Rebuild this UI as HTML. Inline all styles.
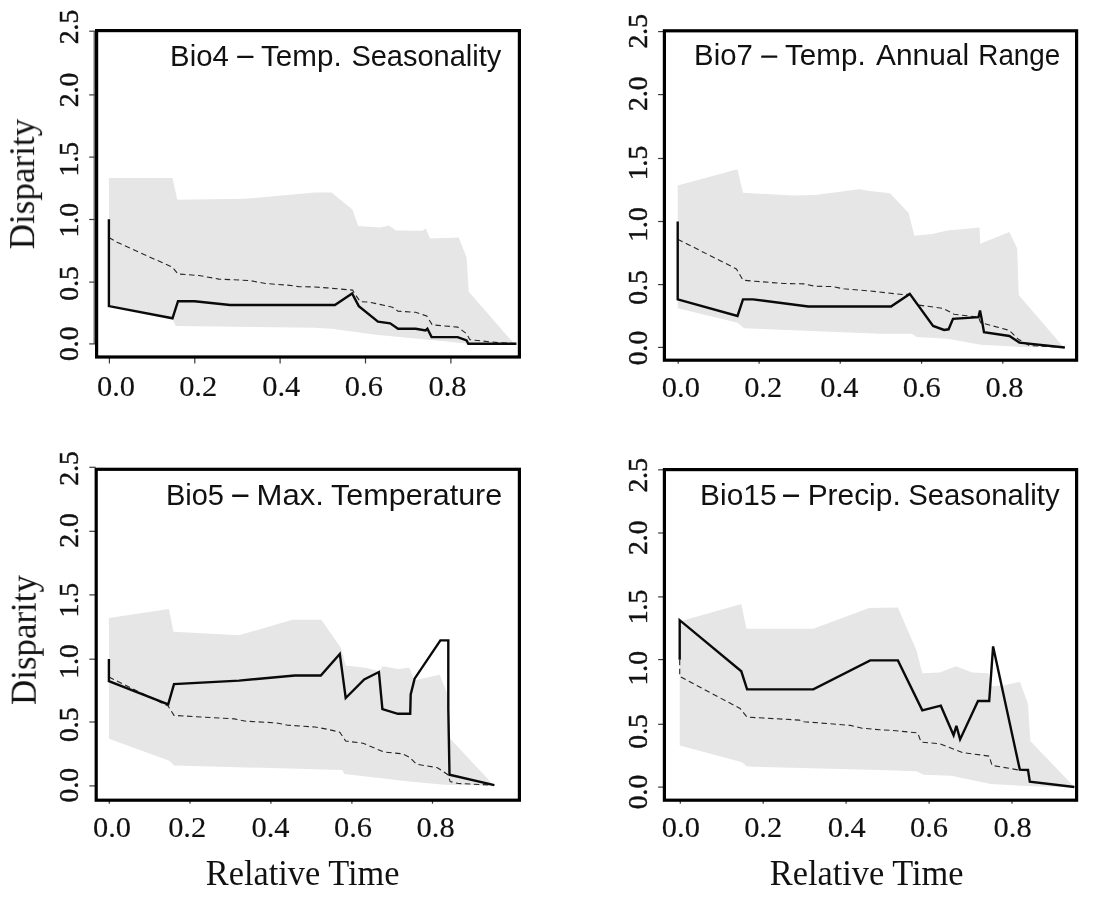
<!DOCTYPE html>
<html><head><meta charset="utf-8"><title>Disparity through time</title>
<style>html,body{margin:0;padding:0;background:#fff;}body{width:1100px;height:904px;overflow:hidden;font-family:"Liberation Serif",serif;}svg{display:block;}</style>
</head><body>
<svg width="1100" height="904" viewBox="0 0 1100 904">
<rect width="1100" height="904" fill="#fff"/>
<polygon points="108.9,178.1 172.5,178.1 177.3,199.8 245.5,198.7 315,192.5 331.6,192.5 352.6,209.8 358.1,226 380.3,227.5 389.1,225.5 395.7,230.4 422.3,230.8 425.6,228.6 430.1,238.6 458.8,237.5 466.6,257.4 468.8,291.7 513.1,342.6 513.1,343.9 468.8,343.7 429,339.7 378,334.9 331.6,328.7 315,327.8 175.8,326 172.5,318.8 108.9,306.5" fill="#e6e6e6"/>
<polyline points="108.9,237.5 117.1,242.3 172.5,267.3 178,274 199,275.5 219,279.1 250,280.6 265.4,283.5 287.6,285.1 298.6,286.6 315,287 327.1,287.9 352.6,290.1 354.1,292.8 360.3,301.7 369.2,302.1 392.4,307.2 398,311.2 415.7,312.3 426.7,316 432.3,324.9 457.7,327.1 466.6,333.7 469.9,339.7 497.6,342.6 516.4,343.7" fill="none" stroke="#262626" stroke-width="1.1" stroke-dasharray="5.5 3.5"/>
<polyline points="108.9,219.3 108.9,306.1 172.5,318.3 178,301.2 194.6,301.2 230,305 334.9,305 352.1,293.5 358.8,306.1 378,321.6 390.2,323.3 398,328.7 415.7,328.7 425.6,330.4 427.4,328.7 431.6,337.1 457.7,337.1 466.6,340.4 468.3,343.7 516.4,343.7" fill="none" stroke="#0a0a0a" stroke-width="2.4" stroke-linejoin="miter" stroke-miterlimit="3"/>
<line x1="89.2" y1="343.9" x2="96" y2="343.9" stroke="#3a3a3a" stroke-width="1.2"/>
<line x1="89.2" y1="282.1" x2="96" y2="282.1" stroke="#3a3a3a" stroke-width="1.2"/>
<line x1="89.2" y1="219.5" x2="96" y2="219.5" stroke="#3a3a3a" stroke-width="1.2"/>
<line x1="89.2" y1="157.1" x2="96" y2="157.1" stroke="#3a3a3a" stroke-width="1.2"/>
<line x1="89.2" y1="94.9" x2="96" y2="94.9" stroke="#3a3a3a" stroke-width="1.2"/>
<line x1="89.2" y1="31.2" x2="96" y2="31.2" stroke="#3a3a3a" stroke-width="1.2"/>
<line x1="109.4" y1="357.6" x2="109.4" y2="363.5" stroke="#3a3a3a" stroke-width="1.2"/>
<line x1="194.8" y1="357.6" x2="194.8" y2="363.5" stroke="#3a3a3a" stroke-width="1.2"/>
<line x1="280.1" y1="357.6" x2="280.1" y2="363.5" stroke="#3a3a3a" stroke-width="1.2"/>
<line x1="365.5" y1="357.6" x2="365.5" y2="363.5" stroke="#3a3a3a" stroke-width="1.2"/>
<line x1="450.9" y1="357.6" x2="450.9" y2="363.5" stroke="#3a3a3a" stroke-width="1.2"/>
<line x1="94.2" y1="31.2" x2="94.2" y2="343.9" stroke="#4a4a4a" stroke-width="1.2"/>
<rect x="96.6" y="30.6" width="422.8" height="326.4" fill="none" stroke="#000" stroke-width="3.2"/>
<polygon points="677.7,185.5 737.5,169.3 743,192.8 792.8,195.4 814.9,195 859.2,189.2 870,191 889.9,193.2 908.7,213.1 914.3,235.7 932,234.1 947.5,230.4 979.6,227.5 980.2,243.7 1009.4,231.9 1017.2,248.5 1018.7,295 1062.6,345.9 1062.6,347.4 1020.5,347 980.7,344.8 947.5,338.8 916.5,337.1 912,333.7 880,333.7 744.1,328.2 737.5,322.7 677.7,308.3" fill="#e6e6e6"/>
<polyline points="677.7,239.2 686.6,243.7 736.4,268.9 743,280.2 755.2,281.3 783.9,283.5 803.9,283.9 814.9,286.2 832.6,286.6 843.7,288.8 870,291 903.2,294.6 909.8,294.2 917.6,305 943,308.3 954.1,314.3 978.5,317.1 980.7,322.7 1009.4,330.4 1018.3,339.3 1029.4,345.5 1064.8,347.5" fill="none" stroke="#262626" stroke-width="1.1" stroke-dasharray="5.5 3.5"/>
<polyline points="677.7,221.5 677.7,299.4 737.5,316 743,299.4 753,299.4 808.3,306.5 891,306.5 909.8,293.9 933.1,326 944.1,330 948.6,329.3 953,318.9 978.5,317.1 980,310.5 981.3,317.1 984,332.2 1009.4,336 1019.4,342.6 1064.8,347.5" fill="none" stroke="#0a0a0a" stroke-width="2.4" stroke-linejoin="miter" stroke-miterlimit="3"/>
<line x1="658.1" y1="347.4" x2="663.8" y2="347.4" stroke="#3a3a3a" stroke-width="1.2"/>
<line x1="658.1" y1="284.6" x2="663.8" y2="284.6" stroke="#3a3a3a" stroke-width="1.2"/>
<line x1="658.1" y1="221.5" x2="663.8" y2="221.5" stroke="#3a3a3a" stroke-width="1.2"/>
<line x1="658.1" y1="158.5" x2="663.8" y2="158.5" stroke="#3a3a3a" stroke-width="1.2"/>
<line x1="658.1" y1="94.6" x2="663.8" y2="94.6" stroke="#3a3a3a" stroke-width="1.2"/>
<line x1="658.1" y1="31.6" x2="663.8" y2="31.6" stroke="#3a3a3a" stroke-width="1.2"/>
<line x1="678.2" y1="360.8" x2="678.2" y2="363.7" stroke="#3a3a3a" stroke-width="1.2"/>
<line x1="759.1" y1="360.8" x2="759.1" y2="363.7" stroke="#3a3a3a" stroke-width="1.2"/>
<line x1="840.2" y1="360.8" x2="840.2" y2="363.7" stroke="#3a3a3a" stroke-width="1.2"/>
<line x1="921.6" y1="360.8" x2="921.6" y2="363.7" stroke="#3a3a3a" stroke-width="1.2"/>
<line x1="1002.8" y1="360.8" x2="1002.8" y2="363.7" stroke="#3a3a3a" stroke-width="1.2"/>
<rect x="664.4" y="30.8" width="412.2" height="329.4" fill="none" stroke="#000" stroke-width="3.2"/>
<polygon points="108.9,617.9 168.9,609 173.5,631.8 239,635.3 292.4,619.7 321.3,619.7 341,648.1 345.7,665.5 365.4,667.8 379.3,671.3 382.8,666.2 397.9,669 409.5,667.8 414.2,680.6 439.7,674.8 446.7,692.2 450.2,738.7 493.2,784.7 493.2,785.7 444.4,784.7 409.5,781.6 344.5,774 342.2,770 315,769.3 174,765.4 169.3,760.7 108.9,738.7" fill="#e6e6e6"/>
<polyline points="108.9,677.1 168.2,706.1 174,715.4 234.4,718.9 246,721.2 276.2,722.9 287.8,725.2 315,727 328.2,729.4 339.8,732.2 345.7,741 363.1,743.3 384,752.1 402.6,753.8 409.5,757.2 416.5,764.2 437.4,767.7 447.9,774.7 450.2,781.6 458.3,783.5 494.3,785.1" fill="none" stroke="#262626" stroke-width="1.1" stroke-dasharray="5.5 3.5"/>
<polyline points="108.9,659 108.9,681.1 168.2,704.3 174,684.1 239,680.6 294.8,675.5 320.8,675.5 339.8,653.9 345.7,698 364.2,679.4 378.9,672 382.4,709.2 397.9,713.8 410.2,713.8 410.7,694.5 414.6,678.7 440.4,640.4 448.3,640.4 448.3,708.5 449.5,774.7 494.3,785.1" fill="none" stroke="#0a0a0a" stroke-width="2.4" stroke-linejoin="miter" stroke-miterlimit="3"/>
<line x1="89.3" y1="785.9" x2="95.6" y2="785.9" stroke="#3a3a3a" stroke-width="1.2"/>
<line x1="89.3" y1="722" x2="95.6" y2="722" stroke="#3a3a3a" stroke-width="1.2"/>
<line x1="89.3" y1="659.2" x2="95.6" y2="659.2" stroke="#3a3a3a" stroke-width="1.2"/>
<line x1="89.3" y1="594.9" x2="95.6" y2="594.9" stroke="#3a3a3a" stroke-width="1.2"/>
<line x1="89.3" y1="531.3" x2="95.6" y2="531.3" stroke="#3a3a3a" stroke-width="1.2"/>
<line x1="89.3" y1="467.3" x2="95.6" y2="467.3" stroke="#3a3a3a" stroke-width="1.2"/>
<line x1="109.3" y1="800.8" x2="109.3" y2="803.7" stroke="#3a3a3a" stroke-width="1.2"/>
<line x1="190" y1="800.8" x2="190" y2="803.7" stroke="#3a3a3a" stroke-width="1.2"/>
<line x1="270.9" y1="800.8" x2="270.9" y2="803.7" stroke="#3a3a3a" stroke-width="1.2"/>
<line x1="351.9" y1="800.8" x2="351.9" y2="803.7" stroke="#3a3a3a" stroke-width="1.2"/>
<line x1="432.5" y1="800.8" x2="432.5" y2="803.7" stroke="#3a3a3a" stroke-width="1.2"/>
<rect x="96.2" y="469.3" width="423.2" height="330.9" fill="none" stroke="#000" stroke-width="3.2"/>
<polygon points="679.7,621.4 741.3,603.9 746.4,628.8 813.3,628.8 869.1,608.1 897.9,607.4 916.5,650.4 922.3,673.2 939.7,672.5 955.9,666.2 972.2,672.5 988.5,673.2 989.6,686.4 1004.7,685.2 1019.8,681.8 1028,703.8 1030.3,741 1074.4,787 1074.4,787.3 1032.6,786.3 990.8,784 951.3,775.8 923.4,774.7 916.5,771.2 880,770 747.1,766.5 741.3,761.9 679.7,745.6" fill="#e6e6e6"/>
<polyline points="679.7,659.7 679.7,676.4 740.1,708.5 747.1,717.1 799.4,720.1 804,721.7 850.5,725.4 862.1,728.2 880,729.8 893.2,730.5 917.6,732.9 921.1,742.1 939.7,743.8 962.9,752.6 989.2,756.1 992,765.4 1018.7,770 1028,770.3" fill="none" stroke="#262626" stroke-width="1.1" stroke-dasharray="5.5 3.5"/>
<polyline points="679.7,659.7 679.7,620.2 741.3,671.3 747.1,689.4 813.3,689.4 870.2,660.4 897.9,660.4 922.3,710.3 940.8,705.7 953.6,735.2 956.4,725.9 960.1,739.4 978,701 989.2,701 993.1,646.4 1019.8,769.6 1028,770 1029.8,781.6 1074.4,787" fill="none" stroke="#0a0a0a" stroke-width="2.4" stroke-linejoin="miter" stroke-miterlimit="3"/>
<line x1="658.1" y1="787.1" x2="663.8" y2="787.1" stroke="#3a3a3a" stroke-width="1.2"/>
<line x1="658.1" y1="724.3" x2="663.8" y2="724.3" stroke="#3a3a3a" stroke-width="1.2"/>
<line x1="658.1" y1="659.6" x2="663.8" y2="659.6" stroke="#3a3a3a" stroke-width="1.2"/>
<line x1="658.1" y1="596.9" x2="663.8" y2="596.9" stroke="#3a3a3a" stroke-width="1.2"/>
<line x1="658.1" y1="533" x2="663.8" y2="533" stroke="#3a3a3a" stroke-width="1.2"/>
<line x1="658.1" y1="469.8" x2="663.8" y2="469.8" stroke="#3a3a3a" stroke-width="1.2"/>
<line x1="680.3" y1="800.8" x2="680.3" y2="803.7" stroke="#3a3a3a" stroke-width="1.2"/>
<line x1="763.2" y1="800.8" x2="763.2" y2="803.7" stroke="#3a3a3a" stroke-width="1.2"/>
<line x1="846.1" y1="800.8" x2="846.1" y2="803.7" stroke="#3a3a3a" stroke-width="1.2"/>
<line x1="929.1" y1="800.8" x2="929.1" y2="803.7" stroke="#3a3a3a" stroke-width="1.2"/>
<line x1="1012" y1="800.8" x2="1012" y2="803.7" stroke="#3a3a3a" stroke-width="1.2"/>
<rect x="664.4" y="469.6" width="412.2" height="330.6" fill="none" stroke="#000" stroke-width="3.2"/>
<g opacity="0.999">
<text transform="translate(97 395.66) scale(1.03 1)" font-family="Liberation Serif, serif" font-size="29.6" fill="#111" stroke="#111" stroke-width="0.15">0.0</text>
<text transform="translate(179.13 395.66) scale(1.03 1)" font-family="Liberation Serif, serif" font-size="29.6" fill="#111" stroke="#111" stroke-width="0.15">0.2</text>
<text transform="translate(262.26 395.66) scale(1.03 1)" font-family="Liberation Serif, serif" font-size="29.6" fill="#111" stroke="#111" stroke-width="0.15">0.4</text>
<text transform="translate(344.86 395.66) scale(1.03 1)" font-family="Liberation Serif, serif" font-size="29.6" fill="#111" stroke="#111" stroke-width="0.15">0.6</text>
<text transform="translate(428.44 395.66) scale(1.03 1)" font-family="Liberation Serif, serif" font-size="29.6" fill="#111" stroke="#111" stroke-width="0.15">0.8</text>
<text transform="translate(661.85 397.01) scale(1.03 1)" font-family="Liberation Serif, serif" font-size="29.6" fill="#111" stroke="#111" stroke-width="0.15">0.0</text>
<text transform="translate(744.13 397.01) scale(1.03 1)" font-family="Liberation Serif, serif" font-size="29.6" fill="#111" stroke="#111" stroke-width="0.15">0.2</text>
<text transform="translate(820.36 397.01) scale(1.03 1)" font-family="Liberation Serif, serif" font-size="29.6" fill="#111" stroke="#111" stroke-width="0.15">0.4</text>
<text transform="translate(902.76 397.01) scale(1.03 1)" font-family="Liberation Serif, serif" font-size="29.6" fill="#111" stroke="#111" stroke-width="0.15">0.6</text>
<text transform="translate(985.5 397.01) scale(1.03 1)" font-family="Liberation Serif, serif" font-size="29.6" fill="#111" stroke="#111" stroke-width="0.15">0.8</text>
<text transform="translate(92.9 837.01) scale(1.03 1)" font-family="Liberation Serif, serif" font-size="29.6" fill="#111" stroke="#111" stroke-width="0.15">0.0</text>
<text transform="translate(168.13 837.01) scale(1.03 1)" font-family="Liberation Serif, serif" font-size="29.6" fill="#111" stroke="#111" stroke-width="0.15">0.2</text>
<text transform="translate(251.51 837.01) scale(1.03 1)" font-family="Liberation Serif, serif" font-size="29.6" fill="#111" stroke="#111" stroke-width="0.15">0.4</text>
<text transform="translate(333.91 837.01) scale(1.03 1)" font-family="Liberation Serif, serif" font-size="29.6" fill="#111" stroke="#111" stroke-width="0.15">0.6</text>
<text transform="translate(416.55 837.01) scale(1.03 1)" font-family="Liberation Serif, serif" font-size="29.6" fill="#111" stroke="#111" stroke-width="0.15">0.8</text>
<text transform="translate(661.85 837.01) scale(1.03 1)" font-family="Liberation Serif, serif" font-size="29.6" fill="#111" stroke="#111" stroke-width="0.15">0.0</text>
<text transform="translate(744.13 837.01) scale(1.03 1)" font-family="Liberation Serif, serif" font-size="29.6" fill="#111" stroke="#111" stroke-width="0.15">0.2</text>
<text transform="translate(827.66 837.01) scale(1.03 1)" font-family="Liberation Serif, serif" font-size="29.6" fill="#111" stroke="#111" stroke-width="0.15">0.4</text>
<text transform="translate(910.01 837.01) scale(1.03 1)" font-family="Liberation Serif, serif" font-size="29.6" fill="#111" stroke="#111" stroke-width="0.15">0.6</text>
<text transform="translate(993.55 837.01) scale(1.03 1)" font-family="Liberation Serif, serif" font-size="29.6" fill="#111" stroke="#111" stroke-width="0.15">0.8</text>
<text transform="translate(77.93 44.27) rotate(-90) scale(1.03 1)" font-family="Liberation Serif, serif" font-size="26.9" fill="#111" stroke="#111" stroke-width="0.45">2.5</text>
<text transform="translate(77.93 107.17) rotate(-90) scale(1.03 1)" font-family="Liberation Serif, serif" font-size="26.9" fill="#111" stroke="#111" stroke-width="0.45">2.0</text>
<text transform="translate(77.93 176.42) rotate(-90) scale(1.03 1)" font-family="Liberation Serif, serif" font-size="26.9" fill="#111" stroke="#111" stroke-width="0.45">1.5</text>
<text transform="translate(77.93 237.52) rotate(-90) scale(1.03 1)" font-family="Liberation Serif, serif" font-size="26.9" fill="#111" stroke="#111" stroke-width="0.45">1.0</text>
<text transform="translate(77.93 300.67) rotate(-90) scale(1.03 1)" font-family="Liberation Serif, serif" font-size="26.9" fill="#111" stroke="#111" stroke-width="0.45">0.5</text>
<text transform="translate(77.93 361.07) rotate(-90) scale(1.03 1)" font-family="Liberation Serif, serif" font-size="26.9" fill="#111" stroke="#111" stroke-width="0.45">0.0</text>
<text transform="translate(646.93 48.57) rotate(-90) scale(1.03 1)" font-family="Liberation Serif, serif" font-size="26.9" fill="#111" stroke="#111" stroke-width="0.45">2.5</text>
<text transform="translate(646.93 110.97) rotate(-90) scale(1.03 1)" font-family="Liberation Serif, serif" font-size="26.9" fill="#111" stroke="#111" stroke-width="0.45">2.0</text>
<text transform="translate(646.93 180.37) rotate(-90) scale(1.03 1)" font-family="Liberation Serif, serif" font-size="26.9" fill="#111" stroke="#111" stroke-width="0.45">1.5</text>
<text transform="translate(646.93 241.77) rotate(-90) scale(1.03 1)" font-family="Liberation Serif, serif" font-size="26.9" fill="#111" stroke="#111" stroke-width="0.45">1.0</text>
<text transform="translate(646.93 304.77) rotate(-90) scale(1.03 1)" font-family="Liberation Serif, serif" font-size="26.9" fill="#111" stroke="#111" stroke-width="0.45">0.5</text>
<text transform="translate(646.93 365.37) rotate(-90) scale(1.03 1)" font-family="Liberation Serif, serif" font-size="26.9" fill="#111" stroke="#111" stroke-width="0.45">0.0</text>
<text transform="translate(78.13 485.72) rotate(-90) scale(1.03 1)" font-family="Liberation Serif, serif" font-size="26.9" fill="#111" stroke="#111" stroke-width="0.45">2.5</text>
<text transform="translate(78.13 547.87) rotate(-90) scale(1.03 1)" font-family="Liberation Serif, serif" font-size="26.9" fill="#111" stroke="#111" stroke-width="0.45">2.0</text>
<text transform="translate(78.13 617.62) rotate(-90) scale(1.03 1)" font-family="Liberation Serif, serif" font-size="26.9" fill="#111" stroke="#111" stroke-width="0.45">1.5</text>
<text transform="translate(78.13 678.72) rotate(-90) scale(1.03 1)" font-family="Liberation Serif, serif" font-size="26.9" fill="#111" stroke="#111" stroke-width="0.45">1.0</text>
<text transform="translate(78.13 742.12) rotate(-90) scale(1.03 1)" font-family="Liberation Serif, serif" font-size="26.9" fill="#111" stroke="#111" stroke-width="0.45">0.5</text>
<text transform="translate(78.13 802.47) rotate(-90) scale(1.03 1)" font-family="Liberation Serif, serif" font-size="26.9" fill="#111" stroke="#111" stroke-width="0.45">0.0</text>
<text transform="translate(646.93 492.57) rotate(-90) scale(1.03 1)" font-family="Liberation Serif, serif" font-size="26.9" fill="#111" stroke="#111" stroke-width="0.45">2.5</text>
<text transform="translate(646.93 555.07) rotate(-90) scale(1.03 1)" font-family="Liberation Serif, serif" font-size="26.9" fill="#111" stroke="#111" stroke-width="0.45">2.0</text>
<text transform="translate(646.93 624.32) rotate(-90) scale(1.03 1)" font-family="Liberation Serif, serif" font-size="26.9" fill="#111" stroke="#111" stroke-width="0.45">1.5</text>
<text transform="translate(646.93 685.62) rotate(-90) scale(1.03 1)" font-family="Liberation Serif, serif" font-size="26.9" fill="#111" stroke="#111" stroke-width="0.45">1.0</text>
<text transform="translate(646.93 748.67) rotate(-90) scale(1.03 1)" font-family="Liberation Serif, serif" font-size="26.9" fill="#111" stroke="#111" stroke-width="0.45">0.5</text>
<text transform="translate(646.93 809.27) rotate(-90) scale(1.03 1)" font-family="Liberation Serif, serif" font-size="26.9" fill="#111" stroke="#111" stroke-width="0.45">0.0</text>
<text transform="translate(34.1 249.35) rotate(-90) scale(1 1)" font-family="Liberation Serif, serif" font-size="35.05" fill="#111">Disparity</text>
<text transform="translate(35.7 705.05) rotate(-90) scale(1 1)" font-family="Liberation Serif, serif" font-size="34.9" fill="#111">Disparity</text>
<text transform="translate(205.76 884.5) scale(0.98 1)" font-family="Liberation Serif, serif" font-size="35.05" fill="#111">Relative Time</text>
<text transform="translate(769.76 884.5) scale(0.98 1)" font-family="Liberation Serif, serif" font-size="35.05" fill="#111">Relative Time</text>
<text transform="translate(170.11 65.7) scale(0.99 1)" font-family="Liberation Sans, sans-serif" font-size="29.6" fill="#111">Bio4</text>
<rect x="237.2" y="55.7" width="16.2" height="2.4" rx="0.6" fill="#111"/>
<text transform="translate(261.04 65.7) scale(1 1)" font-family="Liberation Sans, sans-serif" font-size="29.6" fill="#111">Temp.</text>
<text transform="translate(351.39 65.7) scale(0.98 1)" font-family="Liberation Sans, sans-serif" font-size="29.6" fill="#111">Seasonality</text>
<text transform="translate(694.1 65.4) scale(0.99 1)" font-family="Liberation Sans, sans-serif" font-size="29.6" fill="#111">Bio7</text>
<rect x="761.2" y="55.4" width="16.1" height="2.4" rx="0.6" fill="#111"/>
<text transform="translate(785.04 65.4) scale(1 1)" font-family="Liberation Sans, sans-serif" font-size="29.6" fill="#111">Temp.</text>
<text transform="translate(876 65.4) scale(1.01 1)" font-family="Liberation Sans, sans-serif" font-size="29.6" fill="#111">Annual</text>
<text transform="translate(978.31 65.4) scale(0.94 1)" font-family="Liberation Sans, sans-serif" font-size="29.6" fill="#111">Range</text>
<text transform="translate(165.93 504.6) scale(0.98 1)" font-family="Liberation Sans, sans-serif" font-size="29.6" fill="#111">Bio5</text>
<rect x="232.2" y="494.6" width="16.2" height="2.4" rx="0.6" fill="#111"/>
<text transform="translate(256.57 504.6) scale(1.05 1)" font-family="Liberation Sans, sans-serif" font-size="29.6" fill="#111">Max.</text>
<text transform="translate(331.12 504.6) scale(1.03 1)" font-family="Liberation Sans, sans-serif" font-size="29.6" fill="#111">Temperature</text>
<text transform="translate(700.07 504.5) scale(1.01 1)" font-family="Liberation Sans, sans-serif" font-size="29.6" fill="#111">Bio15</text>
<rect x="783" y="494.5" width="16.1" height="2.4" rx="0.6" fill="#111"/>
<text transform="translate(807.68 504.5) scale(1.01 1)" font-family="Liberation Sans, sans-serif" font-size="29.6" fill="#111">Precip.</text>
<text transform="translate(908.19 504.5) scale(0.99 1)" font-family="Liberation Sans, sans-serif" font-size="29.6" fill="#111">Seasonality</text>
</g>
</svg>
</body></html>
